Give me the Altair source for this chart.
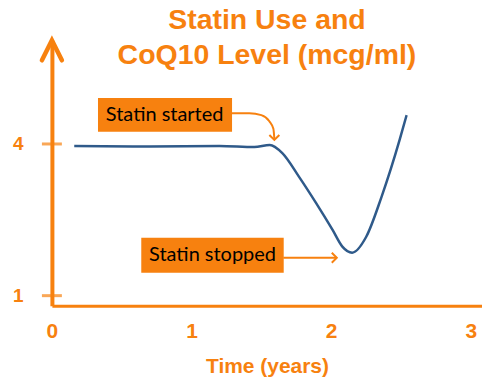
import altair as alt
import pandas as pd

ORANGE = "#F7810F"
BLUE = "#2F5A8A"
FONT = "Liberation Sans"

# CoQ10 curve (time in years, level in mcg/ml)
years = [0.16, 0.70, 1.20, 1.45, 1.56, 1.65, 1.77, 1.89, 2.01, 2.08, 2.15, 2.25, 2.36, 2.49, 2.54]
coq10 = [3.96, 3.95, 3.96, 3.94, 3.98, 3.82, 3.35, 2.84, 2.30, 1.97, 1.85, 2.16, 2.95, 4.08, 4.57]

x_ticks = [0, 1, 2, 3]
y_ticks = [1, 4]
x_domain = [0, 3.08]
y_domain = [0.80, 6.05]

# annotation boxes
box_labels = ["Statin started", "Statin stopped"]
box_x = [0.33, 0.64]
box_x2 = [1.29, 1.66]
box_y = [4.91, 2.145]
box_y2 = [4.24, 1.454]
box_tx = [0.807, 1.15]
box_ty = [4.575, 1.80]

# arrows
arrow1_t = [1.286, 1.414, 1.50, 1.557, 1.586, 1.593]
arrow1_v = [4.61, 4.61, 4.57, 4.45, 4.30, 4.10]
arrow1_tip = (1.593, 4.08)
arrow2_t = [1.657, 2.035]
arrow2_v = [1.75, 1.75]
arrow2_tip = (2.04, 1.75)

xs = alt.Scale(domain=x_domain, nice=False, zero=False)
ys = alt.Scale(domain=y_domain, nice=False, zero=False)

x_axis = alt.Axis(values=x_ticks, format="d", domainColor=ORANGE, domainWidth=3,
                  ticks=False, grid=False, labelColor=ORANGE, labelFont=FONT,
                  labelFontSize=21, labelFontWeight="bold", labelPadding=15,
                  labelFlush=False, title="Time (years)", titleColor=ORANGE,
                  titleFont=FONT, titleFontSize=21, titleFontWeight="bold",
                  titlePadding=14)
y_axis = alt.Axis(values=y_ticks, format="d", domainColor=ORANGE, domainWidth=4,
                  ticks=False, grid=False, labelColor=ORANGE, labelFont=FONT,
                  labelFontSize=19, labelFontWeight="bold", labelPadding=29,
                  labelFlush=False, title=None)

curve_df = pd.DataFrame({"t": years, "v": coq10})
curve = alt.Chart(curve_df).mark_line(color=BLUE, strokeWidth=2.5, interpolate="monotone").encode(
    x=alt.X("t:Q", scale=xs, axis=x_axis),
    y=alt.Y("v:Q", scale=ys, axis=y_axis),
)

tick_df = pd.DataFrame({"t": [0] * len(y_ticks), "v": y_ticks})
ticks = alt.Chart(tick_df).mark_tick(color=ORANGE, orient="horizontal", size=20, thickness=3).encode(
    x=alt.X("t:Q", scale=xs), y=alt.Y("v:Q", scale=ys))

head_df = pd.DataFrame({"t": [0], "v": [y_domain[1]]})
axis_head = alt.Chart(head_df).mark_point(
    shape="M -0.5 1 L 0 0 L 0.5 1", size=1600, filled=False, color=ORANGE,
    strokeWidth=4.5, strokeJoin="miter", strokeCap="round", opacity=1).encode(
    x=alt.X("t:Q", scale=xs), y=alt.Y("v:Q", scale=ys))

box_df = pd.DataFrame({"label": box_labels, "x": box_x, "x2": box_x2, "y": box_y,
                       "y2": box_y2, "tx": box_tx, "ty": box_ty})
boxes = alt.Chart(box_df).mark_rect(color=ORANGE).encode(
    x=alt.X("x:Q", scale=xs), x2="x2:Q", y=alt.Y("y:Q", scale=ys), y2="y2:Q")
box_text = alt.Chart(box_df).mark_text(font="Lato", fontSize=20, color="black",
                                       align="center", baseline="middle").encode(
    x=alt.X("tx:Q", scale=xs), y=alt.Y("ty:Q", scale=ys), text="label:N")

a1_df = pd.DataFrame({"t": arrow1_t, "v": arrow1_v, "o": range(len(arrow1_t))})
a1 = alt.Chart(a1_df).mark_line(color=ORANGE, strokeWidth=2, interpolate="monotone").encode(
    x=alt.X("t:Q", scale=xs), y=alt.Y("v:Q", scale=ys), order="o:Q")
a1h = alt.Chart(pd.DataFrame({"t": [arrow1_tip[0]], "v": [arrow1_tip[1]]})).mark_point(
    shape="M -1 -1 L 0 0 L 1 -1", size=100, filled=False, color=ORANGE, strokeWidth=2,
    opacity=1).encode(x=alt.X("t:Q", scale=xs), y=alt.Y("v:Q", scale=ys))

a2_df = pd.DataFrame({"t": arrow2_t, "v": arrow2_v})
a2 = alt.Chart(a2_df).mark_line(color=ORANGE, strokeWidth=2).encode(
    x=alt.X("t:Q", scale=xs), y=alt.Y("v:Q", scale=ys))
a2h = alt.Chart(pd.DataFrame({"t": [arrow2_tip[0]], "v": [arrow2_tip[1]]})).mark_point(
    shape="M -1 -1 L 0 0 L -1 1", size=100, filled=False, color=ORANGE, strokeWidth=2,
    opacity=1).encode(x=alt.X("t:Q", scale=xs), y=alt.Y("v:Q", scale=ys))

chart = alt.layer(curve, ticks, axis_head, boxes, box_text, a1, a1h, a2, a2h).properties(
    width=431, height=266,
    autosize=alt.AutoSizeParams(type="none"),
    padding={"left": 44, "top": 32, "right": 0, "bottom": 76},
    title=alt.TitleParams(text=["Statin Use and", "CoQ10 Level (mcg/ml)"], font=FONT,
                          fontSize=28.5, fontWeight="bold", color=ORANGE, lineHeight=35,
                          anchor="middle", dy=42),
).configure_view(stroke=None)

chart.save("out.html", embed_options={"renderer": "svg", "actions": False})
